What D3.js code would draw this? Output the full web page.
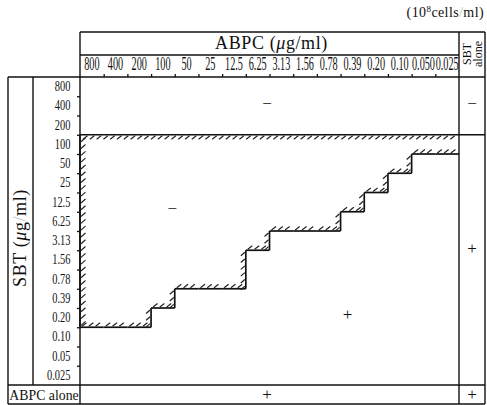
<!DOCTYPE html>
<html>
<head>
<meta charset="utf-8">
<script src="https://cdn.jsdelivr.net/npm/d3@7"></script>
<style>
  body { margin: 0; background: #fff; }
  text { font-family: "Liberation Serif", "Times New Roman", serif; fill: #111; }
</style>
</head>
<body>
<div id="chart"></div>
<script>
// data
const abpcConc = ["800","400","200","100","50","25","12.5","6.25","3.13","1.56","0.78","0.39","0.20","0.10","0.050","0.025"]
const sbtConc = ["800","400","200","100","50","25","12.5","6.25","3.13","1.56","0.78","0.39","0.20","0.10","0.05","0.025"]
// highest SBT tested in combination (hatched top line sits above it)
const sbtTopTested = "100"
// lowest SBT conc. still without growth, for each ABPC column
const lowestNoGrowth = ["0.20","0.20","0.20","0.39","0.78","0.78","0.78","3.13","6.25","6.25","6.25","12.5","25","50","100","100"]
// growth marks, in column / row index units (16 = "alone" column / row)
const resultSign = ["−","−","+","−","+","+","+"]
const resultCol = [7.9, 3.9, 11.3, 16.55, 16.55, 7.9, 16.55]
const resultRow = [1.4, 6.85, 12.35, 1.4, 8.9, 16.5, 16.5]

const width = 487
const height = 405
const plot = { left: 80, right: 459, top: 77, bottom: 385 }
const outer = { left: 8, right: 485, top: 32, bottom: 404 }

const svg = d3.select("#chart").append("svg").attr("width", width).attr("height", height)

// scales
const x = d3.scaleBand().domain(abpcConc).range([plot.left, plot.right])
const y = d3.scaleBand().domain(sbtConc).range([plot.top, plot.bottom])
const xi = d3.scaleLinear().domain([0, abpcConc.length]).range([plot.left, plot.right])
const yi = d3.scaleLinear().domain([0, sbtConc.length]).range([plot.top, plot.bottom])

// frame lines
const frame = [
    [outer.left, plot.top, outer.right, plot.top],
    [plot.left, outer.top, outer.right, outer.top],
    [plot.left, 55, plot.right, 55],
    [outer.left, plot.bottom, outer.right, plot.bottom],
    [outer.left, outer.bottom, outer.right, outer.bottom],
    [outer.left, plot.top, outer.left, outer.bottom],
    [33, plot.top, 33, plot.bottom],
    [plot.left, outer.top, plot.left, outer.bottom],
    [plot.right, outer.top, plot.right, outer.bottom],
    [outer.right, outer.top, outer.right, outer.bottom],
    [plot.left, y(sbtTopTested), outer.right, y(sbtTopTested)]
]
svg.append("g").selectAll("line").data(frame).enter().append("line")
    .attr("x1", d => d[0]).attr("y1", d => d[1]).attr("x2", d => d[2]).attr("y2", d => d[3])
    .attr("stroke", "#111").attr("stroke-width", 1.4)

// axes: labels
const xAxis = svg.append("g").attr("transform", `translate(0, ${plot.top})`)
    .call(d3.axisTop(x).tickSize(0).tickPadding(6))
xAxis.select(".domain").remove()
xAxis.selectAll("text").attr("font-size", 16).attr("font-family", "Liberation Serif")
    .attr("transform", "scale(0.64,1.12)").attr("fill", "#111")

const yAxis = svg.append("g").attr("transform", `translate(${plot.left}, 0)`)
    .call(d3.axisLeft(y).tickSize(0).tickPadding(12))
yAxis.select(".domain").remove()
yAxis.selectAll("text").attr("font-size", 13).attr("font-family", "Liberation Serif")
    .attr("transform", "scale(0.8,1.05)").attr("fill", "#111")

// axes: little tick marks between the cells
const xTicks = svg.append("g").attr("transform", `translate(0, ${plot.top})`)
    .call(d3.axisTop(xi).tickValues(d3.range(1, abpcConc.length)).tickFormat("").tickSize(3))
const yTicks = svg.append("g").attr("transform", `translate(${plot.left}, 0)`)
    .call(d3.axisLeft(yi).tickValues(d3.range(1, sbtConc.length)).tickFormat("").tickSize(3))
xTicks.select(".domain").remove()
yTicks.select(".domain").remove()
svg.selectAll(".tick line").attr("stroke", "#111").attr("stroke-width", 1.3)

// step line (boundary of inhibition)
const yLow = abpcConc.map((a, j) => y(lowestNoGrowth[j]) + y.bandwidth())
const yTop = y(sbtTopTested)
const segs = [] // [x1,y1,x2,y2, side of hatching]
segs.push([plot.left, yTop, plot.left, yLow[0], "right"])
abpcConc.forEach((a, j) => {
    segs.push([x(a), yLow[j], x(a) + x.bandwidth(), yLow[j], "up"])
    if (j > 0 && yLow[j] !== yLow[j - 1]) segs.push([x(a), yLow[j], x(a), yLow[j - 1], "left"])
})
const stepGroup = svg.append("g")
stepGroup.selectAll("line").data(segs).enter().append("line")
    .attr("x1", d => d[0]).attr("y1", d => d[1]).attr("x2", d => d[2]).attr("y2", d => d[3])
    .attr("stroke", "#111").attr("stroke-width", 1.7)

// hatching
const hatch = []
const gap = 6.8
segs.forEach(s => {
    if (s[4] === "up") {
        for (let hx = s[0] + 2; hx < s[2] - 2; hx += gap) hatch.push([hx, s[1] - 1, hx + 4.5, s[1] - 4.5])
    } else if (s[4] === "left") {
        for (let hy = s[1] + 2; hy < s[3] - 1; hy += gap) hatch.push([s[0] - 5, hy + 3.5, s[0] - 1, hy])
    } else {
        for (let hy = s[1] + 3; hy < s[3] - 2; hy += gap) hatch.push([s[0] + 1, hy + 4, s[0] + 5.5, hy])
    }
})
for (let hx = plot.left + 3; hx < plot.right - 2; hx += gap) hatch.push([hx, yTop + 4.5, hx + 4.5, yTop + 1])
stepGroup.append("g").selectAll("line").data(hatch).enter().append("line")
    .attr("x1", d => d[0]).attr("y1", d => d[1]).attr("x2", d => d[2]).attr("y2", d => d[3])
    .attr("stroke", "#222").attr("stroke-width", 1.2)

// growth marks
svg.append("g").selectAll("text").data(resultSign).enter().append("text")
    .attr("x", (d, i) => xi(resultCol[i]))
    .attr("y", (d, i) => yi(resultRow[i]))
    .attr("text-anchor", "middle").attr("dominant-baseline", "central")
    .attr("font-size", 17)
    .text(d => d)

// titles
const t1 = svg.append("text").attr("x", (plot.left + plot.right) / 2 + 2).attr("y", 49)
    .attr("text-anchor", "middle").attr("font-size", 18).attr("letter-spacing", 0.6)
t1.append("tspan").text("ABPC  (")
t1.append("tspan").attr("font-style", "italic").text("μ")
t1.append("tspan").text("g/ml)")

const t2 = svg.append("text").attr("transform", "translate(26, 238) rotate(-90)")
    .attr("text-anchor", "middle").attr("font-size", 18).attr("letter-spacing", 0.6)
t2.append("tspan").text("SBT  (")
t2.append("tspan").attr("font-style", "italic").text("μ")
t2.append("tspan").text("g")
t2.append("tspan").attr("fill", "#bbb").text("/")
t2.append("tspan").text("ml)")

const t3 = svg.append("text").attr("x", 484).attr("y", 17).attr("text-anchor", "end")
    .attr("font-size", 14).attr("letter-spacing", 0.4)
t3.append("tspan").text("(10")
t3.append("tspan").attr("font-size", 9).attr("dy", -5).text("8")
t3.append("tspan").attr("dy", 5).text("cells")
t3.append("tspan").attr("fill", "#bbb").text("/")
t3.append("tspan").text("ml)")

svg.append("text").attr("transform", "translate(471, 54) rotate(-90)")
    .attr("text-anchor", "middle").attr("font-size", 12).text("SBT")
svg.append("text").attr("transform", "translate(482, 54) rotate(-90)")
    .attr("text-anchor", "middle").attr("font-size", 12).text("alone")

svg.append("text").attr("transform", "translate(44, 400) scale(0.92,1)").attr("text-anchor", "middle")
    .attr("font-size", 15).text("ABPC alone")
</script>
</body>
</html>
